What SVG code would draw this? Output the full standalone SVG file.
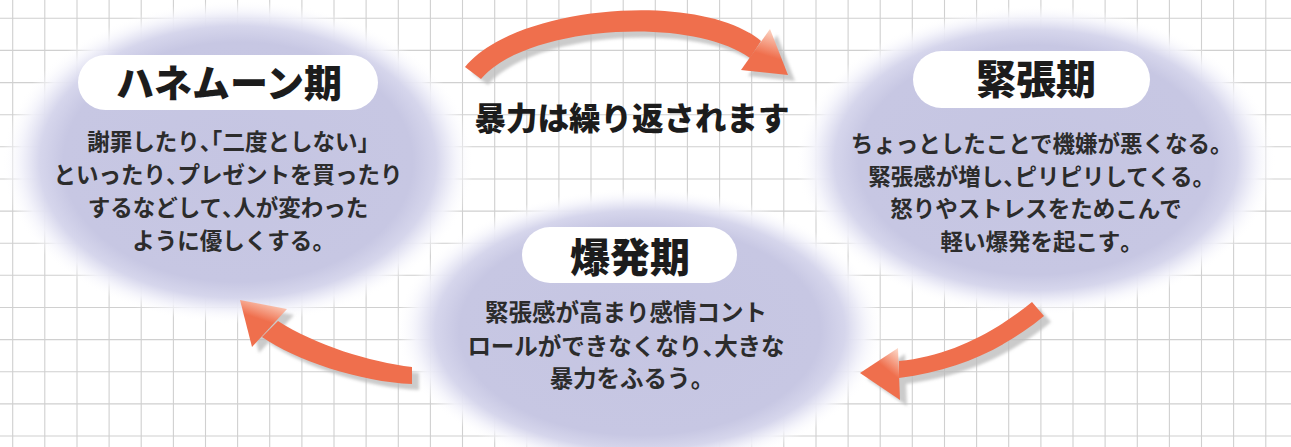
<svg xmlns="http://www.w3.org/2000/svg" width="1291" height="447" viewBox="0 0 1291 447">
<style>
.grid{fill:none;stroke:#d0d0d0;stroke-width:1.1}
.pill{fill:#ffffff}
.lab{font-family:"Noto Sans CJK JP","Noto Sans CJK SC",sans-serif;font-weight:900;fill:#1c1c1c;text-anchor:middle}
.body{font-family:"Noto Sans CJK JP","Noto Sans CJK SC",sans-serif;font-weight:700;fill:#2c2c2c;text-anchor:middle;font-size:22.5px}
.h{font-feature-settings:"halt"}
.arr{fill:#ef6f4d}
.sh{fill:#b9b9b9;opacity:.75}
</style>
<defs>
<radialGradient id="blob" cx="0.5" cy="0.5" r="0.5">
<stop offset="0" stop-color="#c5c5e2"/>
<stop offset="0.74" stop-color="#c7c7e3"/>
<stop offset="0.84" stop-color="#d6d6ec"/>
<stop offset="0.92" stop-color="#f2f2fa" stop-opacity="0.9"/>
<stop offset="1" stop-color="#ffffff" stop-opacity="0"/>
</radialGradient>
<linearGradient id="hl1" x1="0.62" y1="0" x2="0.45" y2="0.55">
<stop offset="0" stop-color="#fcd6c6"/>
<stop offset="1" stop-color="#ef6f4d"/>
</linearGradient>
<linearGradient id="hl2" x1="0.7" y1="0" x2="0.55" y2="0.45">
<stop offset="0" stop-color="#fcd6c6"/>
<stop offset="1" stop-color="#ef6f4d"/>
</linearGradient>
<linearGradient id="hl3" x1="0.9" y1="0" x2="0.65" y2="0.4">
<stop offset="0" stop-color="#fcd6c6"/>
<stop offset="1" stop-color="#ef6f4d"/>
</linearGradient>
<filter id="blur" x="-20%" y="-20%" width="140%" height="140%">
<feGaussianBlur stdDeviation="1.6"/>
</filter>
</defs>
<rect width="1291" height="447" fill="#ffffff"/>
<path class="grid" d="M12.7,0V447M44.8,0V447M77,0V447M109.1,0V447M141.2,0V447M173.4,0V447M205.5,0V447M237.6,0V447M269.7,0V447M301.9,0V447M334,0V447M366.1,0V447M398.3,0V447M430.4,0V447M462.5,0V447M494.7,0V447M526.8,0V447M558.9,0V447M591,0V447M623.2,0V447M655.3,0V447M687.4,0V447M719.6,0V447M751.7,0V447M783.8,0V447M816,0V447M848.1,0V447M880.2,0V447M912.3,0V447M944.5,0V447M976.6,0V447M1008.7,0V447M1040.9,0V447M1073,0V447M1105.1,0V447M1137.3,0V447M1169.4,0V447M1201.5,0V447M1233.6,0V447M1265.8,0V447M0,18.3H1291M0,50.4H1291M0,82.6H1291M0,114.7H1291M0,146.8H1291M0,179H1291M0,211.1H1291M0,243.2H1291M0,275.3H1291M0,307.5H1291M0,339.6H1291M0,371.7H1291M0,403.9H1291M0,436H1291"/>

<g id="node-honeymoon">
<ellipse cx="238" cy="162" rx="236" ry="162" fill="url(#blob)"/>
<rect class="pill" x="78" y="55" width="300" height="55" rx="27.5"/>
<text class="lab" x="229" y="97" font-size="38">ハネムーン期</text>
<text class="body" x="228" y="150">謝罪したり<tspan class="h">、「</tspan>二度としない<tspan class="h">」</tspan></text>
<text class="body" x="228" y="183">といったり<tspan class="h">、</tspan>プレゼントを買ったり</text>
<text class="body" x="228" y="216">するなどして<tspan class="h">、</tspan>人が変わった</text>
<text class="body" x="228" y="249">ように優しくする<tspan class="h">。</tspan></text>
</g>

<g id="node-tension">
<ellipse cx="1036" cy="160" rx="240" ry="155" fill="url(#blob)"/>
<rect class="pill" x="913" y="51" width="237" height="57" rx="28.5"/>
<text class="lab" x="1036" y="94" font-size="40">緊張期</text>
<text class="body" x="1036" y="152">ちょっとしたことで機嫌が悪くなる<tspan class="h">。</tspan></text>
<text class="body" x="1036" y="185">緊張感が増し<tspan class="h">、</tspan>ピリピリしてくる<tspan class="h">。</tspan></text>
<text class="body" x="1036" y="217">怒りやストレスをためこんで</text>
<text class="body" x="1036" y="250">軽い爆発を起こす<tspan class="h">。</tspan></text>
</g>

<g id="node-explosion">
<ellipse cx="640" cy="330" rx="244" ry="142" fill="url(#blob)"/>
<rect class="pill" x="522" y="227" width="215" height="56" rx="28"/>
<text class="lab" x="630" y="272" font-size="40">爆発期</text>
<text class="body" x="626" y="321" style="font-size:23.5px">緊張感が高まり感情コント</text>
<text class="body" x="626" y="355" style="font-size:23.5px">ロールができなくなり<tspan class="h">、</tspan>大きな</text>
<text class="body" x="626" y="387" style="font-size:23.5px">暴力をふるう<tspan class="h">。</tspan></text>
</g>

<g id="title">
<text class="lab" x="632" y="130" font-size="31.5">暴力は繰り返されます</text>
</g>

<g id="connectors">
<g transform="translate(7,6)" filter="url(#blur)">
<path class="sh" d="M465,67 C515,5 700,-10 761,41 L750,58 C690,15 525,26 481,79 Z"/>
<polygon class="sh" points="770,29 741,70 788,75"/>
<path class="sh" d="M412,367 C370,362 315,345 278,321 L262,337 C295,360 360,382 412,384 Z"/>
<polygon class="sh" points="240,300 287,309 252,347"/>
<path class="sh" d="M1032,302 C995,332 950,356 899,361 L899,378 C960,370 1005,348 1044,316 Z"/>
<polygon class="sh" points="860,373 898,348 900,400"/>
</g>
<g id="arrow-top">
<path class="arr" d="M465,67 C515,5 700,-10 761,41 L750,58 C690,15 525,26 481,79 Z"/>
<polygon points="770,29 741,70 788,75" fill="url(#hl1)"/>
</g>
<g id="arrow-left">
<path class="arr" d="M412,367 C370,362 315,345 278,321 L262,337 C295,360 360,382 412,384 Z"/>
<polygon points="240,300 287,309 252,347" fill="url(#hl2)"/>
</g>
<g id="arrow-right">
<path class="arr" d="M1032,302 C995,332 950,356 899,361 L899,378 C960,370 1005,348 1044,316 Z"/>
<polygon points="860,373 898,348 900,400" fill="url(#hl3)"/>
</g>
</g>
</svg>
